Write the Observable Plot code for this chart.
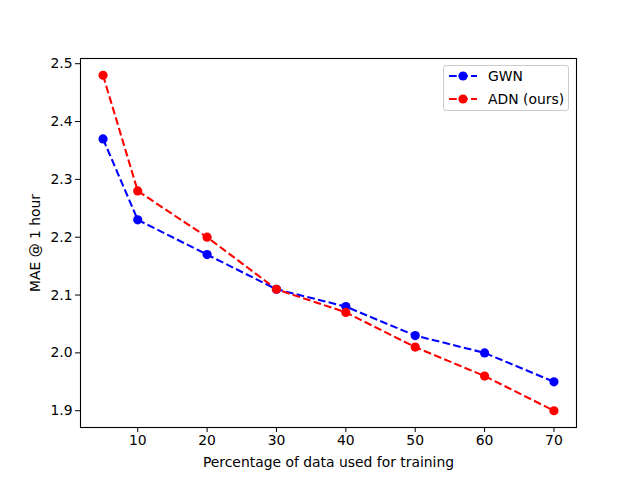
<!DOCTYPE html>
<html>
<head>
<meta charset="utf-8">
<script src="https://cdn.jsdelivr.net/npm/d3@7"></script>
<script src="https://cdn.jsdelivr.net/npm/@observablehq/plot@0.6"></script>
<style>
  body { margin: 0; background: white; }
  #wrap { position: relative; width: 640px; height: 480px; font-family: "DejaVu Sans", sans-serif; }
  #legend { position: absolute; left: 443px; top: 65px; width: 126px; height: 46px;
    border: 1px solid #cccccc; border-radius: 3px; background: rgba(255,255,255,0.8); box-sizing: border-box; }
  .row { position: absolute; left: 5px; height: 18px; display: flex; align-items: center; font-size: 13.9px; color: black; }
  .row svg { margin-right: 11px; }
</style>
</head>
<body>
<div id="wrap"></div>
<script>
const percentages = [5, 10, 20, 30, 40, 50, 60, 70];
const gwnMAE = [2.37, 2.23, 2.17, 2.11, 2.08, 2.03, 2.00, 1.95];
const adnMAE = [2.48, 2.28, 2.20, 2.11, 2.07, 2.01, 1.96, 1.90];
const seriesNames = ["GWN", "ADN (ours)"];
const seriesColors = ["#0000ff", "#ff0000"];
const xTicks = [10, 20, 30, 40, 50, 60, 70];
const yTicks = [1.9, 2.0, 2.1, 2.2, 2.3, 2.4, 2.5];

const data = [];
percentages.forEach((p, i) => data.push({series: seriesNames[0], x: p, y: gwnMAE[i]}));
percentages.forEach((p, i) => data.push({series: seriesNames[1], x: p, y: adnMAE[i]}));

const font = "DejaVu Sans, sans-serif";
const chart = Plot.plot({
  width: 640,
  height: 480,
  marginLeft: 80,
  marginRight: 64,
  marginTop: 58,
  marginBottom: 53,
  style: {fontFamily: font, fontSize: "13.9px", color: "black", background: "white"},
  x: {domain: [1.75, 73.25], ticks: xTicks, tickFormat: d => String(d), label: "Percentage of data used for training",
      labelAnchor: "center", labelArrow: "none"},
  y: {domain: [1.871, 2.509], ticks: yTicks, tickFormat: d => d.toFixed(1), label: "MAE @ 1 hour",
      labelAnchor: "center", labelArrow: "none"},
  color: {domain: seriesNames, range: seriesColors},
  marks: [
    Plot.axisX({ticks: xTicks, tickFormat: d => String(d), tickSize: 5, tickPadding: 3, stroke: "black",
      label: "Percentage of data used for training", labelAnchor: "center", labelArrow: "none", labelOffset: 39, fontSize: 13.9}),
    Plot.axisY({ticks: yTicks, tickFormat: d => d.toFixed(1), tickSize: 5, tickPadding: 3, stroke: "black",
      label: "MAE @ 1 hour", labelAnchor: "center", labelArrow: "none", labelOffset: 50, fontSize: 13.9}),
    Plot.line(data, {x: "x", y: "y", z: "series", stroke: "series", strokeWidth: 2.08,
      strokeDasharray: "7.7,3.3", strokeLinecap: "butt", strokeLinejoin: "round"}),
    Plot.dot(data, {x: "x", y: "y", fill: "series", r: 4.6}),
    Plot.frame({stroke: "black", strokeWidth: 1.1})
  ]
});
const wrap = document.getElementById("wrap");
wrap.appendChild(chart);

const legend = document.createElement("div");
legend.id = "legend";
seriesNames.forEach((name, i) => {
  const row = document.createElement("div");
  row.className = "row";
  row.style.top = (1.3 + i * 22.4) + "px";
  row.innerHTML = `<svg width="28" height="10"><line x1="0" x2="28" y1="5" y2="5" stroke="${seriesColors[i]}" stroke-width="2.08" stroke-dasharray="7.7,3.3"/><circle cx="14" cy="5" r="4.6" fill="${seriesColors[i]}"/></svg><span>${name}</span>`;
  legend.appendChild(row);
});
wrap.appendChild(legend);
</script>
</body>
</html>
